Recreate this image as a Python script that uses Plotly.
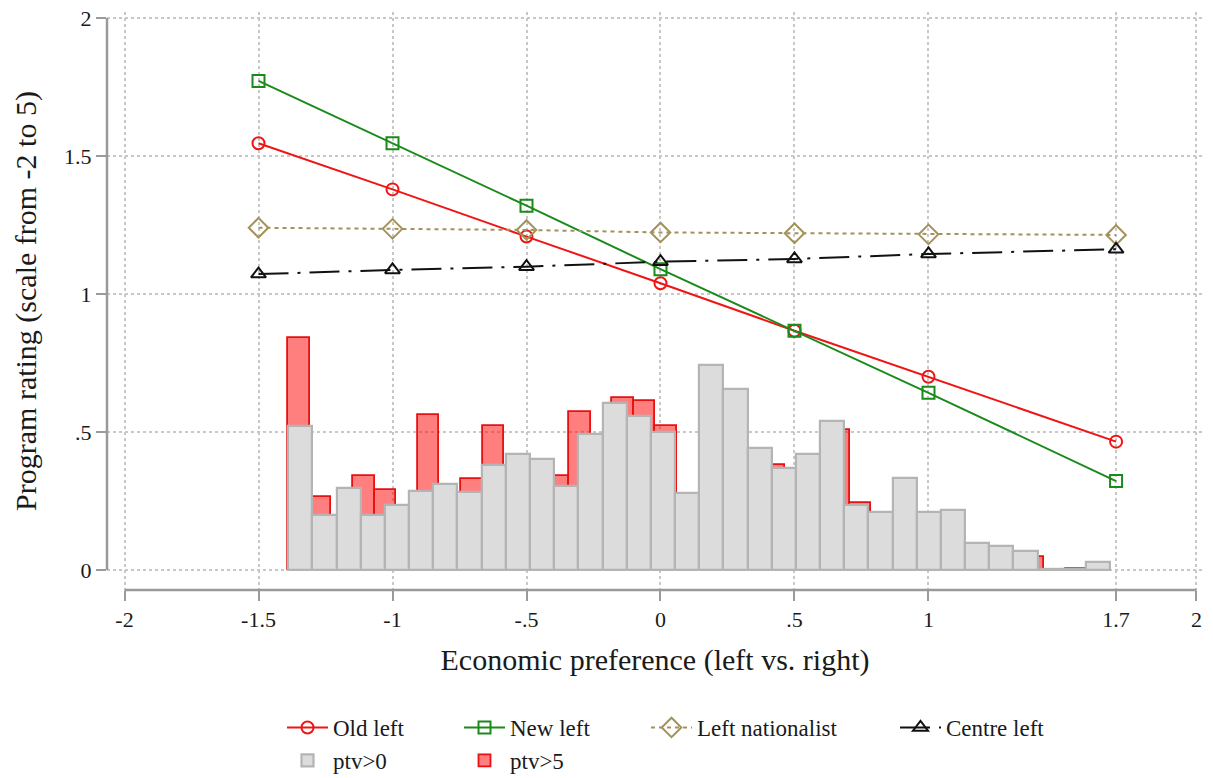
import numpy as np
import plotly.graph_objects as go

# ---------------- data ----------------
x_points = [-1.5, -1, -0.5, 0, 0.5, 1, 1.7]
old_left = [1.546, 1.379, 1.208, 1.039, 0.867, 0.700, 0.465]
new_left = [1.772, 1.546, 1.320, 1.090, 0.867, 0.642, 0.322]
left_nationalist = [1.240, 1.236, 1.232, 1.223, 1.220, 1.216, 1.214]
centre_left = [1.072, 1.087, 1.099, 1.117, 1.127, 1.145, 1.162]

# histogram (density) of economic preference
hist_start = -1.389
ptv0_binwidth = 0.0902
ptv5_binwidth = 0.0806
ptv0_density = [0.523, 0.199, 0.298, 0.199, 0.234, 0.288, 0.312, 0.283, 0.380,
                0.421, 0.403, 0.304, 0.491, 0.606, 0.557, 0.499, 0.280, 0.741,
                0.654, 0.443, 0.368, 0.421, 0.539, 0.235, 0.211, 0.334, 0.211,
                0.216, 0.098, 0.087, 0.070, 0.005, 0.003, 0.028]
ptv5_density = [0.841, 0.264, 0.190, 0.342, 0.289, 0.220, 0.560, 0.270, 0.328,
                0.521, 0.360, 0.380, 0.342, 0.572, 0.460, 0.624, 0.612, 0.521,
                0.250, 0.260, 0.600, 0.420, 0.380, 0.340, 0.400, 0.509, 0.241,
                0.190, 0.200, 0.200, 0.200, 0.090, 0.080, 0.065, 0.046, 0.000,
                0.004]

x_tickvals = [-2, -1.5, -1, -0.5, 0, 0.5, 1, 1.7, 2]
x_ticktext = ["-2", "-1.5", "-1", "-.5", "0", ".5", "1", "1.7", "2"]
y_tickvals = [0, 0.5, 1, 1.5, 2]
y_ticktext = ["0", ".5", "1", "1.5", "2"]

x_title = "Economic preference (left vs. right)"
y_title = "Program rating (scale from -2 to 5)"

# ---------------- figure ----------------
FONT = "Liberation Serif"
TXT = "#1a1a1a"
AXC = "#9a9a9a"

ptv0_centers = hist_start + (np.arange(len(ptv0_density)) + 0.5) * ptv0_binwidth
ptv5_centers = hist_start + (np.arange(len(ptv5_density)) + 0.5) * ptv5_binwidth

fig = go.Figure()

fig.add_trace(go.Bar(
    x=ptv5_centers, y=ptv5_density, width=ptv5_binwidth, name="ptv>5",
    marker=dict(color="rgba(255,0,0,0.5)", line=dict(color="#e81010", width=1.8)),
    legend="legend2", legendrank=2,
))
fig.add_trace(go.Bar(
    x=ptv0_centers, y=ptv0_density, width=ptv0_binwidth, name="ptv>0",
    marker=dict(color="#dcdcdc", line=dict(color="#b4b4b4", width=2.2)),
    legend="legend", legendrank=2,
))

fig.add_trace(go.Scatter(
    x=x_points, y=old_left, name="Old left", mode="lines+markers",
    line=dict(color="#f01414", width=2),
    marker=dict(symbol="circle-open", size=12, color="#f01414", line=dict(width=2)),
    legend="legend", legendrank=1,
))
fig.add_trace(go.Scatter(
    x=x_points, y=new_left, name="New left", mode="lines+markers",
    line=dict(color="#1a8a1a", width=2),
    marker=dict(symbol="square-open", size=12, color="#1a8a1a", line=dict(width=2)),
    legend="legend2", legendrank=1,
))
fig.add_trace(go.Scatter(
    x=x_points, y=left_nationalist, name="Left nationalist", mode="lines+markers",
    line=dict(color="#a39259", width=2, dash="4px,4px"),
    marker=dict(symbol="diamond-open", size=15, color="#a39259", line=dict(width=2)),
    legend="legend3", legendrank=1,
))
fig.add_trace(go.Scatter(
    x=x_points, y=centre_left, name="Centre left", mode="lines+markers",
    line=dict(color="#111111", width=2, dash="30px,9px,3px,9px"),
    marker=dict(symbol="triangle-up-open", size=13, color="#111111", line=dict(width=2)),
    legend="legend4", legendrank=1,
))

grid = dict(showgrid=True, gridcolor="#c8c8c8", gridwidth=1.5, griddash="dot",
            zeroline=False, showline=False, ticks="outside", tickcolor=AXC,
            tickwidth=2, ticklen=10, automargin=False,
            tickfont=dict(family=FONT, size=22, color=TXT))

L, R, T, B = 107, 10, 12, 188
W, H = 1213, 778
PW, PH = W - L - R, H - T - B

fig.update_layout(
    width=W, height=H,
    margin=dict(l=L, r=R, t=T, b=B, autoexpand=False),
    paper_bgcolor="white", plot_bgcolor="white",
    barmode="overlay", bargap=0,
    font=dict(family=FONT, color=TXT),
    xaxis=dict(range=[-2.0653, 2.0243], tickvals=x_tickvals, ticktext=x_ticktext,
               title=dict(text=x_title, font=dict(family=FONT, size=30, color=TXT), standoff=17),
               **grid),
    yaxis=dict(range=[-0.0725, 2.0217], tickvals=y_tickvals, ticktext=y_ticktext,
               title=dict(text=y_title, font=dict(family=FONT, size=30, color=TXT), standoff=18),
               **grid),
    shapes=[
        dict(type="line", xref="x", yref="paper", x0=-2, x1=2, y0=0, y1=0,
             line=dict(color=AXC, width=2.5), layer="above"),
        dict(type="line", xref="paper", yref="y", x0=0, x1=0, y0=0, y1=2,
             line=dict(color=AXC, width=2.5), layer="above"),
    ],
)

def px_x(p):
    return (p - L) / PW

def px_y(p):
    return (H - B - p) / PH

leg_common = dict(orientation="v", xanchor="left", yanchor="top",
                  bgcolor="rgba(0,0,0,0)",
                  font=dict(family=FONT, size=23, color=TXT), tracegroupgap=0,
                  itemwidth=41, traceorder="normal")
legend_top = px_y(706)
fig.update_layout(
    legend=dict(x=px_x(282), y=legend_top, **leg_common),
    legend2=dict(x=px_x(459), y=legend_top, **leg_common),
    legend3=dict(x=px_x(646), y=legend_top, **leg_common),
    legend4=dict(x=px_x(895), y=legend_top, **leg_common),
)

fig.write_html("out.html")
